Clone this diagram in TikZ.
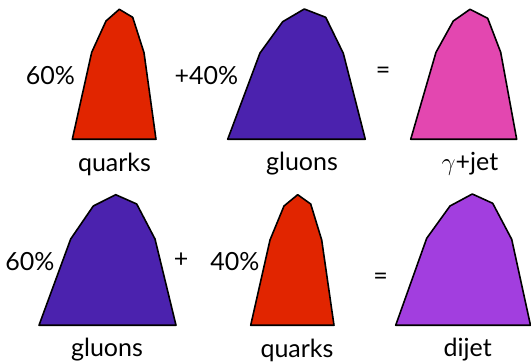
\documentclass[tikz,border=0pt]{standalone}
\usepackage{fontspec}
\setmainfont{Lato}
\definecolor{qred}{HTML}{E12500}
\definecolor{gpurple}{HTML}{4B22AE}
\definecolor{gjpink}{HTML}{E347B0}
\definecolor{djviolet}{HTML}{A23EDF}
\begin{document}
\begin{tikzpicture}[x=1pt,y=-1pt,
  hist/.style={draw=black,line width=1.6pt,line join=round},
  lbl/.style={font=\fontsize{25}{28}\selectfont,inner sep=0pt,anchor=center}]
\useasboundingbox (0,0) rectangle (531,363);
% top row
\path[hist,fill=qred] (72.3,139.3) -- (91.7,52.3) -- (106,21) -- (119.3,9.3) -- (132.7,17.3) -- (144,52.7) -- (156,139.3) -- cycle;
\path[hist,fill=gpurple] (227.7,139.3) -- (260,53) -- (282.7,21.7) -- (304.3,9) -- (325.7,17.3) -- (343.3,53.3) -- (365.3,139.3) -- cycle;
\path[hist,fill=gjpink] (410.7,139.3) -- (436,52.3) -- (453.3,21) -- (470,9.3) -- (487.7,18.3) -- (500.7,52.3) -- (516.7,139.3) -- cycle;
% bottom row
\path[hist,fill=gpurple] (39,325.3) -- (70.7,239) -- (93.3,206) -- (115.7,194.7) -- (136.7,204) -- (155,239) -- (176,325.3) -- cycle;
\path[hist,fill=qred] (250.7,325.3) -- (270,240) -- (284,206) -- (297.7,194.7) -- (310.7,204) -- (321.7,240) -- (334,325.3) -- cycle;
\path[hist,fill=djviolet] (395.7,325.3) -- (426.7,238.3) -- (450,206) -- (472.3,194) -- (492.7,203.3) -- (511.7,239.3) -- (530.5,325.3) -- cycle;
% labels top
\node[lbl] (p60a) at (50.5,76) {60\%};
\node[lbl] (p40a) at (206.5,76) {+40\%};
\node[lbl] (eqa) at (383,73) {=};
\node[lbl] (qa) at (114.5,164) {quarks};
\node[lbl] (ga) at (302,164) {gluons};
\node[lbl] (gj) at (470,164) {$\gamma$+jet};
% labels bottom
\node[lbl] (p60b) at (30,262) {60\%};
\node[lbl] (plb) at (181,260) {+};
\node[lbl] (p40b) at (235,262) {40\%};
\node[lbl] (eqb) at (380.7,279) {=};
\node[lbl] (gb) at (107,350) {gluons};
\node[lbl] (qb) at (297,350) {quarks};
\node[lbl] (dj) at (467.7,350) {dijet};
\end{tikzpicture}
\end{document}
